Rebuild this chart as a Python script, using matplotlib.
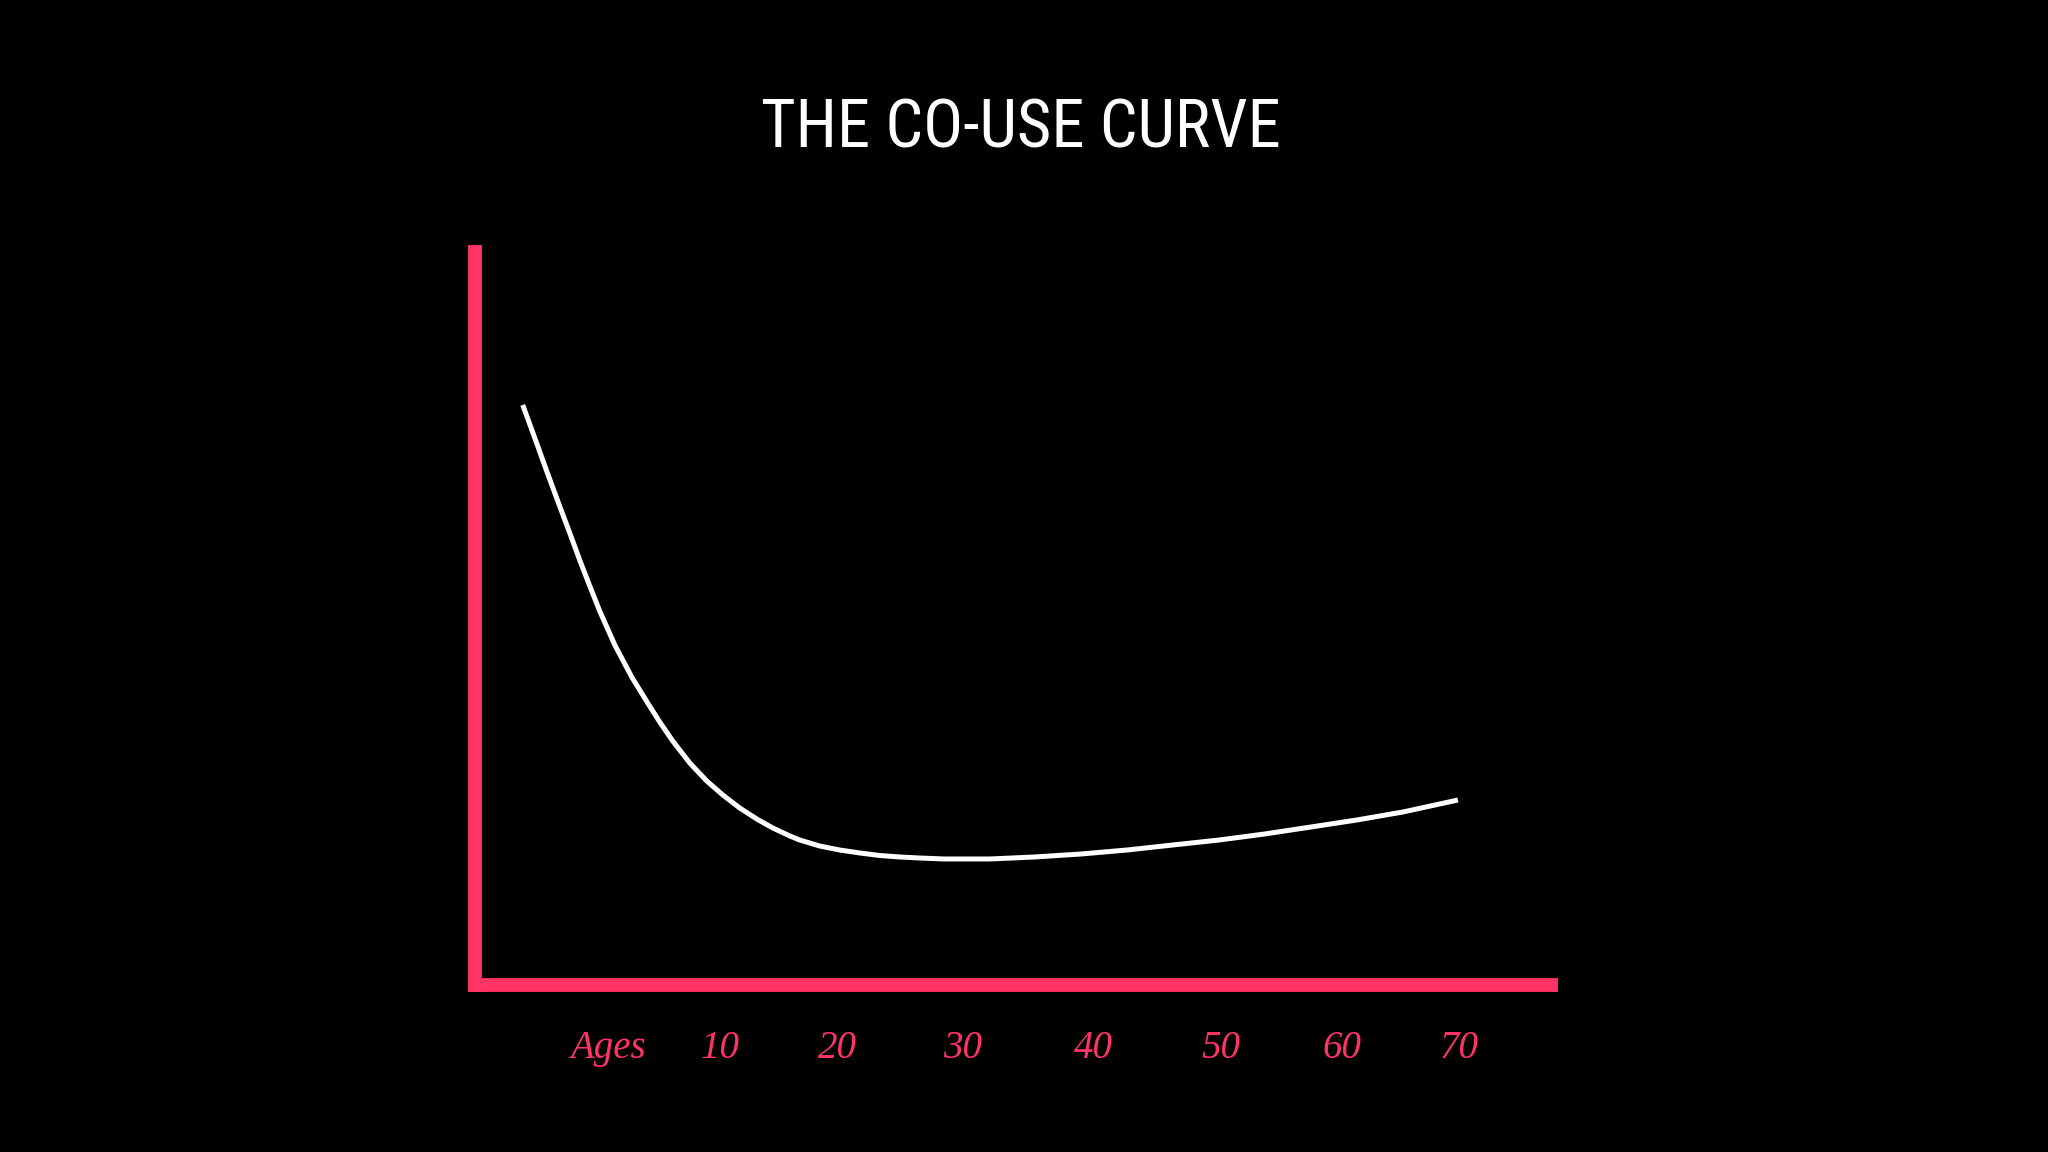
import matplotlib
matplotlib.use("Agg")
import matplotlib.pyplot as plt

# curve (age, relative co-use level 0-100)
ages = [-6.11, -5.13, -4.16, -3.26, -2.28, -1.47, -0.65, 0.16, 1.39, 2.77,
        4.07, 5.05, 6.11, 7.50, 8.88, 10.19, 11.57, 12.96, 14.26, 15.65,
        16.46, 18.09, 19.72, 21.35, 22.98, 24.61, 26.24, 28.20, 31.95, 35.61,
        39.36, 43.11, 46.86, 50.61, 54.36, 58.11, 61.86, 65.61, 70.09]
co_use = [78.38, 73.92, 69.46, 65.41, 61.08, 57.43, 53.92, 50.54, 45.95, 41.62,
          38.11, 35.54, 32.97, 30.0, 27.57, 25.68, 23.92, 22.43, 21.22, 20.14,
          19.59, 18.78, 18.24, 17.84, 17.50, 17.30, 17.16, 17.03, 17.03, 17.30,
          17.70, 18.24, 18.92, 19.59, 20.41, 21.35, 22.30, 23.38, 25.0]

# hand placed age labels under the axis
tick_pos = [0.8, 10.0, 19.5, 29.7, 40.4, 50.8, 60.6, 70.2]
tick_labels = ['Ages', '10', '20', '30', '40', '50', '60', '70']

title = "THE CO-USE CURVE"

pink = '#fe3366'

fig = plt.figure(figsize=(20.48, 11.52), dpi=100, facecolor='black')
# spines have projecting caps, so the box stops a half line width short
ax = fig.add_axes([475 / 2048, 1 - 985 / 1152, (1551 - 475) / 2048, (985 - 252) / 1152])
ax.set_facecolor('black')

# --- the curve
ax.plot(ages, co_use, color='white', linewidth=3.6, solid_capstyle='butt',
        solid_joinstyle='round')
ax.set_xlim(-10, 77.67)
ax.set_ylim(0, 99.05)

# --- only left and bottom spines, thick pink
for side in ['top', 'right']:
    ax.spines[side].set_visible(False)
for side in ['left', 'bottom']:
    ax.spines[side].set_color(pink)
    ax.spines[side].set_linewidth(10)
ax.set_xticks([])
ax.set_yticks([])

# --- age labels
for x, lab in zip(tick_pos, tick_labels):
    ax.text(x, -0.086, lab, transform=ax.get_xaxis_transform(), ha='center', va='center',
            color=pink, fontsize=28, fontstyle='italic', family='Liberation Serif')

# --- title
fig.text(1021 / 2048, 1 - 130 / 1152, title, ha='center', va='center', color='white',
         fontsize=48, fontstretch='condensed',
         family=['Roboto Condensed', 'Open Sans Condensed', 'DejaVu Sans'])

fig.savefig('out.png', dpi=100, facecolor='black')
